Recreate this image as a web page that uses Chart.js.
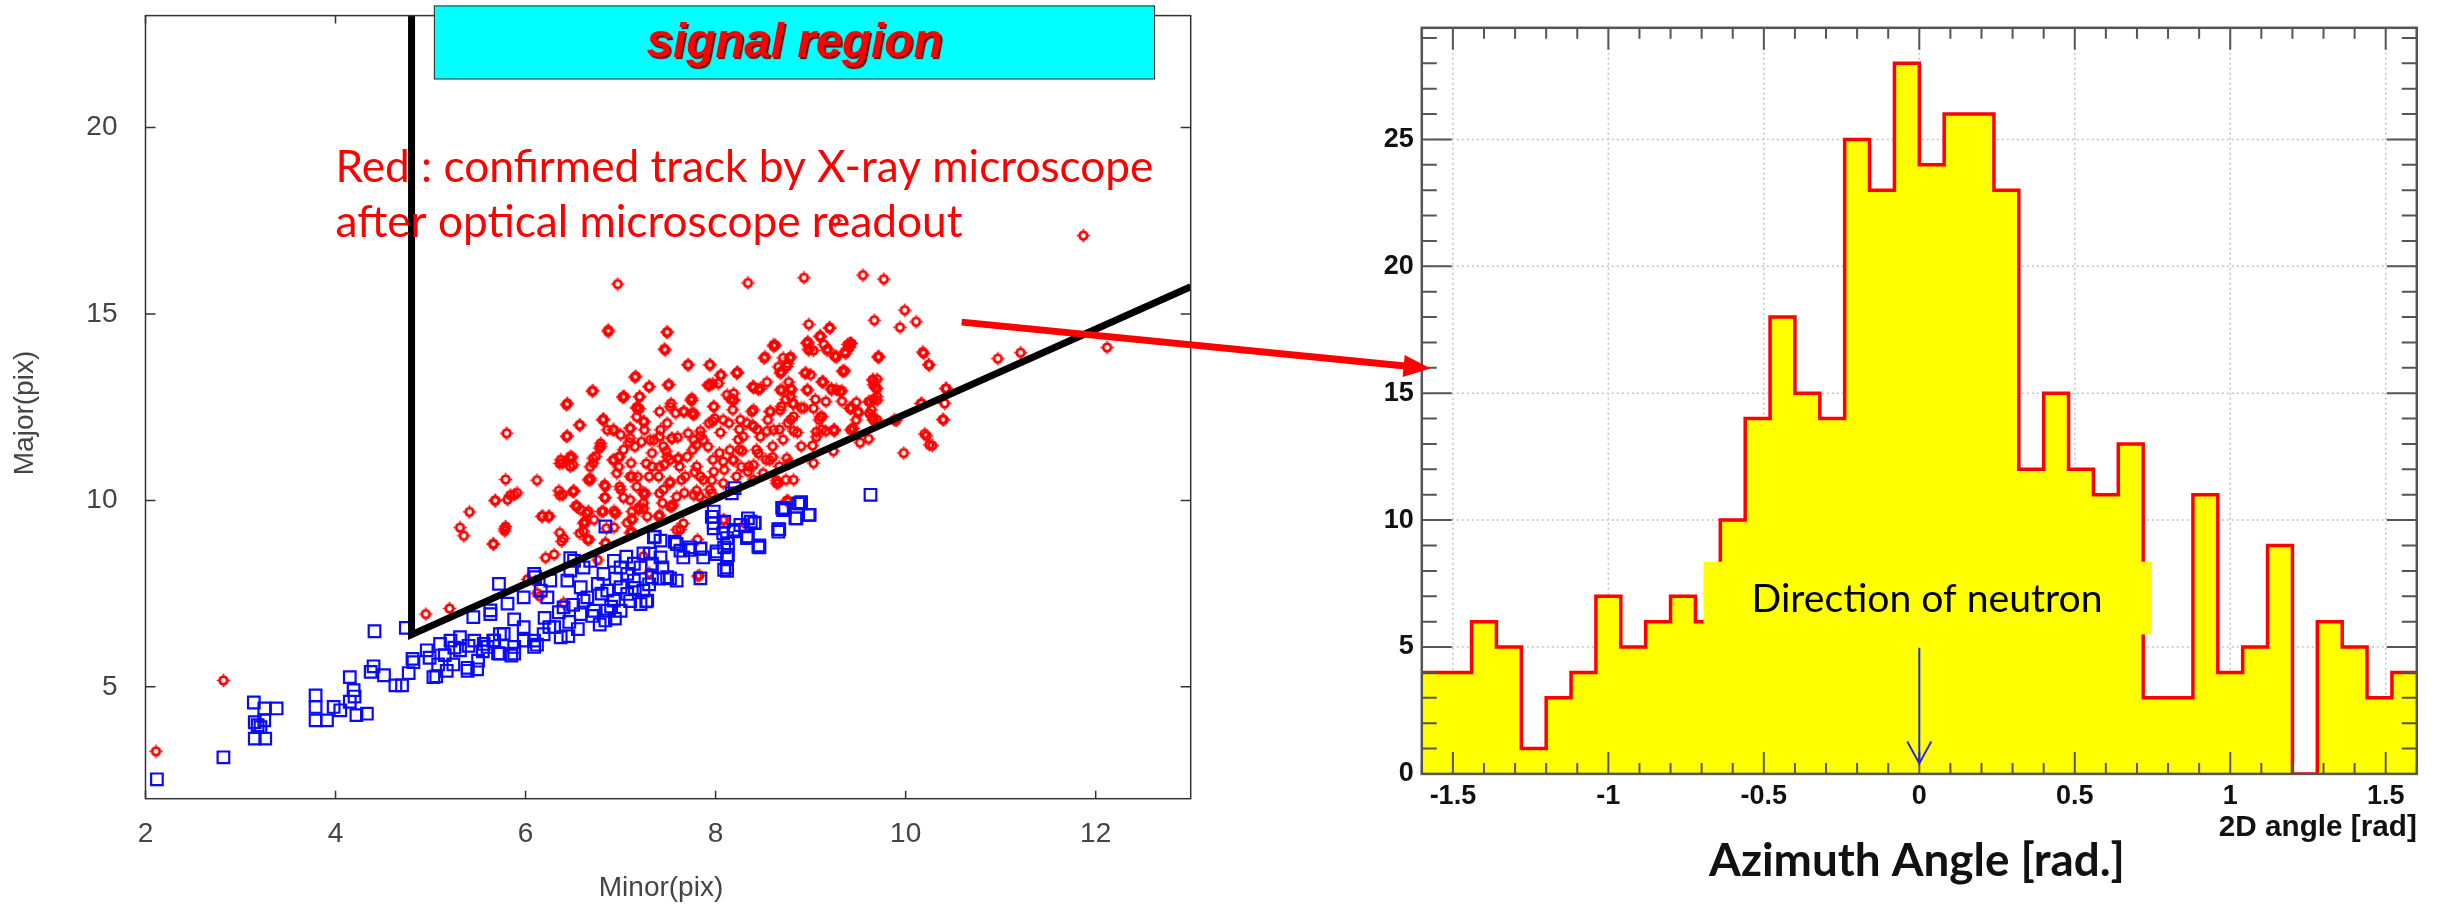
<!DOCTYPE html>
<html>
<head>
<meta charset="utf-8">
<script src="https://cdn.jsdelivr.net/npm/chart.js@4.4.1/dist/chart.umd.min.js"></script>
<style>
body{margin:0;background:#fff;}
#wrap{position:relative;width:2437px;height:909px;overflow:hidden;}
#wrap canvas{position:absolute;top:0;}
</style>
</head>
<body>
<div id="wrap">
<canvas id="scatter" width="1220" height="909" style="left:0"></canvas>
<canvas id="histo" width="1217" height="909" style="left:1220px"></canvas>
<canvas id="overlay" width="2437" height="909" style="left:0;pointer-events:none"></canvas>
</div>
<script>
// ---- scatter: Minor(pix), Major(pix) ----
// rojos: trazas confirmadas con microscopio de rayos X
const redTracks = [
[2.11,3.27],[2.82,5.17],[4.95,6.95],[5.2,7.1],
[6.97,15.8],[8.34,15.83],[8.93,15.97],[9.55,16.04],[9.77,15.93],[11.87,17.1],[9.26,17.5],[12.12,14.1],[11.21,13.96],[10.97,13.8],
[9.99,15.1],[10.11,14.79],[9.67,14.83],[9.94,14.64],[10.18,13.98],[10.24,13.64],[9.71,13.84],[9.98,11.27],[10.2,11.78],[10.28,11.47],
[10.39,12.17],[10.43,13.0],[10.16,12.6],[9.9,12.14],[6.87,14.57],[7.49,14.52],[7.46,14.06],[5.8,11.8],[5.41,9.69],[5.31,9.27],[5.35,9.05],
[5.66,8.84],[5.79,10.56],[5.68,10.0],[5.84,10.14],[5.91,10.2],[5.88,10.15],[5.79,9.3],[5.78,9.18],[6.12,10.54],[6.18,9.58],[6.25,9.58],
[6.21,8.46],[6.3,8.55],[6.36,9.13],[6.38,8.9],[6.44,12.6],[6.57,12.02],[6.81,12.16],[6.49,11.16],[6.39,11.0],[6.35,10.26],[6.51,10.26],
[6.53,9.86],[6.62,9.43],[6.67,8.95],[6.71,12.94],[6.82,12.18],[6.79,11.53],[6.71,11.0],[6.68,10.54],[6.83,10.08],[6.93,9.72],[6.93,9.27],
[7.02,12.77],[7.16,13.33],[7.3,13.05],[7.2,12.46],[7.17,12.24],[7.09,11.56],[6.98,11.16],[7.11,11.0],[7.18,10.63],[7.25,10.15],[7.19,9.81],
[7.12,9.5],[7.4,9.57],[7.55,9.88],[7.71,13.64],[7.94,13.64],[7.51,13.11],[7.75,12.68],[7.75,12.34],[7.94,13.1],[8.05,13.36],[8.23,13.44],
[8.16,12.71],[7.97,12.12],[7.84,11.86],[7.6,11.69],[7.48,11.32],[7.6,11.11],[7.46,10.96],[7.52,10.5],[7.78,10.76],[7.8,10.26],[7.89,9.98],
[7.96,10.54],[8.08,11.04],[8.24,11.63],[8.28,11.33],[8.34,10.77],[8.39,12.01],[8.4,13.02],[8.54,13.17],[8.66,13.58],[8.71,13.82],[8.61,14.13],
[8.69,13.44],[8.77,13.17],[8.74,12.71],[8.79,12.17],[8.54,11.86],[8.71,11.63],[8.6,11.16],[8.77,11.0],[8.64,10.54],[8.82,11.86],[8.98,14.72],
[8.97,14.23],[9.1,14.41],[9.2,14.61],[9.14,14.18],[9.03,14.02],[9.25,13.87],[9.39,14.18],[9.43,14.21],[9.34,13.48],[9.0,13.37],[9.13,13.17],
[9.27,12.97],[9.33,12.66],[9.05,12.71],[8.93,12.48],[9.1,12.24],[9.16,11.86],[9.02,11.47],[9.25,11.86],[9.43,12.48],[9.48,12.63],[9.66,12.71],
[9.66,13.1],[9.7,13.25],[9.65,12.24],[9.44,11.93],[9.52,11.55],[9.24,11.32],[9.03,11.0],[8.75,10.0],[8.66,10.46],[7.83,7.99],[6.1,7.83],
[5.68,9.99],[5.81,10.02],[5.78,9.24],[5.66,8.82],[6.17,9.57],[6.24,9.56],[6.39,10.15],[6.5,10.24],[6.37,11.09],[6.47,11.18],[6.47,10.91],
[6.54,9.84],[6.58,9.75],[6.66,9.71],[6.66,10.55],[6.74,11.18],[6.83,10.42],[6.84,10.07],[6.82,9.71],[6.72,9.48],[6.63,9.4],[6.61,9.17],
[6.65,8.95],[6.84,8.86],[6.93,11.09],[6.96,10.73],[7.0,10.29],[7.03,10.07],[6.95,9.66],[7.07,9.4],[7.1,9.13],[7.03,11.36],[7.12,10.64],
[7.17,10.37],[7.24,10.2],[7.24,9.93],[7.19,9.75],[7.12,9.48],[7.28,9.57],[7.3,10.64],[7.33,10.91],[7.33,11.27],[7.4,10.64],[7.45,10.29],
[7.44,9.93],[7.54,9.84],[7.52,11.09],[7.62,10.91],[7.64,10.55],[7.67,10.2],[7.63,9.22],[7.76,11.36],[7.8,10.91],[7.87,10.55],[7.94,10.29],
[7.83,10.11],[7.97,11.09],[8.04,11.27],[8.09,10.82],[8.18,11.09],[8.25,11.36],[8.35,10.91],[8.53,11.09],[8.67,10.91],[8.74,10.55],[8.43,11.36],
[8.6,11.45],[8.09,9.48],[7.81,8.95],[7.81,7.97],[7.24,8.5],[7.3,8.06],[6.4,7.25],[6.12,7.51],[6.15,7.43],[6.02,7.88],[6.76,8.4],[8.76,9.98],
[8.9,11.45],[9.2,14.64],[9.1,14.39],[8.97,14.25],[8.98,14.06],[9.18,14.06],[9.27,13.85],[9.37,13.94],[9.42,14.21],[9.41,14.1],[8.63,14.16],
[8.52,13.85],[8.79,13.85],[8.76,13.67],[8.69,13.45],[8.95,13.42],[9.36,13.47],[9.72,13.85],[10.19,13.94],[10.25,13.63],[8.23,13.42],[7.93,13.09],
[7.97,13.13],[8.39,13.05],[8.45,12.97],[8.7,12.96],[8.79,13.0],[8.79,12.78],[8.97,12.96],[9.13,13.18],[9.22,13.0],[9.33,12.94],[9.16,12.65],
[9.65,13.23],[9.68,13.03],[9.7,12.78],[9.63,12.65],[9.64,12.43],[9.42,12.47],[9.5,12.34],[9.66,12.16],[9.7,12.16],[10.17,12.6],[10.42,13.0],
[10.41,12.6],[10.4,12.16],[10.22,11.73],[10.25,11.49],[7.74,12.69],[7.98,12.52],[8.19,12.69],[8.18,12.43],[8.4,12.43],[8.58,12.38],[8.69,12.52],
[8.81,12.6],[8.9,12.48],[8.55,12.16],[8.67,11.9],[8.76,12.07],[8.86,11.82],[9.09,12.16],[9.12,11.9],[9.25,11.9],[9.06,11.7],[8.44,11.9],
[8.33,12.07],[8.25,11.9],[8.14,12.07],[8.05,11.82],[7.93,12.07],[7.84,11.73],[7.77,12.29],[9.42,11.89],[9.48,12.16],[9.88,12.16],[9.61,11.65],
[6.93,11.89],[7.0,11.76],[7.1,11.94],[7.25,12.11],[7.25,11.89],[7.1,11.67],[7.35,11.62],[7.42,11.89],[7.49,12.07],[7.53,12.6],[7.58,12.34],
[7.67,12.38],[7.77,12.34],[7.54,11.67],[7.45,11.45],[7.77,11.62],[6.79,11.45],[6.86,11.89],[6.44,11.73],[7.04,12.78],[7.2,12.78],[7.17,12.5],
[6.87,14.52],[7.49,14.5],[7.47,14.03],[7.71,13.63],[7.94,13.63],[8.22,13.41],[8.06,13.36],[7.15,13.3],[6.7,12.93],[7.3,13.05],[7.5,13.09],
[7.03,12.78],[7.2,12.78],[7.17,12.47],[6.43,12.56],[7.75,12.74],[7.92,13.09],[8.03,13.14],[8.19,12.87],[8.4,13.05],[8.47,13.0],[8.61,14.17],
[8.51,13.81],[8.78,13.81],[8.75,13.59],[8.68,13.41],[8.96,14.21],[9.1,14.39],[8.98,14.03],[9.17,14.03],[9.27,13.85],[9.36,13.99],[9.41,14.21],
[9.71,13.85],[9.34,13.45],[8.94,13.41],[9.12,13.18],[9.22,12.96],[9.31,12.92],[8.8,12.96],[8.68,12.96],[8.82,12.6],[8.96,12.96],[9.66,13.23],
[9.7,13.0],[9.61,12.65],[9.7,12.69],[9.41,12.47],[9.5,12.38],[9.45,11.93],[9.66,12.16],[9.62,12.33],[9.24,11.89],[9.06,11.84],[9.12,12.25],
[9.03,12.47],[8.82,12.25],[8.68,12.42],[8.57,12.38],[8.38,12.38],[8.26,12.16],[8.4,11.98],[8.19,12.69],[8.12,12.83],[7.98,12.51],[7.99,12.2],
[8.08,12.16],[7.87,11.62],[7.8,11.49],[7.92,11.44],[7.71,11.8],[7.66,12.38],[7.52,12.51],[7.41,12.38],[7.24,12.11],[7.1,11.93],[6.92,11.89],
[6.82,12.16],[6.57,12.02],[6.43,11.71],[6.78,11.4],[6.71,11.13],[6.47,11.13],[6.5,10.95],[6.68,10.9],[6.92,11.08],[6.99,11.17],[6.98,10.9],
[7.15,11.44],[7.31,11.62],[7.22,11.57],[7.41,11.71],[7.54,11.66],[7.49,11.17],[7.61,11.13],[7.7,11.17],[7.41,10.9],[7.27,10.99],[7.1,10.64],
[6.99,10.37],[6.84,10.37],[6.68,10.59],[6.5,10.23],[6.36,10.99],[6.36,10.14],[6.54,9.83],[6.64,9.65],[6.8,9.7],[6.94,9.65],[7.1,10.01],
[7.26,10.19],[7.41,10.19],[7.52,10.46],[7.68,10.64],[7.84,10.64],[7.98,10.77],[8.19,11.08],[8.27,10.9],[8.15,11.35],[8.29,11.71],[8.47,11.71],
[8.61,11.89],[8.45,11.26],[8.57,11.08],[8.75,11.13],[8.5,10.73],[8.4,10.95],[8.64,10.46],[8.82,10.55],[8.4,10.55],[8.22,10.64],[8.08,10.46],
[7.96,10.19],[7.77,10.14],[7.52,9.83],[7.59,10.1],[7.41,9.61],[7.24,9.79],[7.12,9.7],[6.61,9.38],[6.57,9.12],[6.4,8.98],[6.85,9.25],
[7.12,9.16],[6.84,8.85],[7.66,9.38],[7.59,9.21],[8.08,9.47],[8.31,9.38],[8.77,9.97]
];
// azules: el resto
const blueTracks = [
[2.12,2.52],[2.82,3.11],[3.14,4.58],[3.25,4.42],[3.38,4.42],[3.25,4.1],[3.18,3.97],[3.21,3.92],[3.15,3.61],[3.26,3.61],[3.15,4.05],
[3.79,4.77],[3.79,4.46],[3.79,4.1],[3.91,4.1],[3.98,4.46],[4.05,4.37],[4.15,5.26],[4.19,4.91],[4.2,4.74],[4.15,4.6],[4.22,4.24],[4.33,4.28],
[4.4,5.55],[4.37,5.4],[4.51,5.31],[4.41,6.49],[4.63,5.04],[4.7,5.04],[4.77,5.37],[4.74,6.58],[4.81,5.75],[4.82,5.66],[4.96,5.98],[4.99,5.78],
[5.03,5.26],[5.21,6.24],[5.31,6.33],[5.24,5.6],[5.39,5.51],[5.49,5.47],[5.31,5.98],[5.46,6.24],[5.56,6.15],[5.66,6.24],[5.77,6.42],[5.88,6.07],
[5.98,6.24],[6.09,6.07],[5.85,5.84],[6.09,8.03],[5.72,7.76],[5.45,6.87],[5.63,7.05],[5.81,7.23],[5.98,7.4],[5.63,6.95],[5.73,6.41],[5.88,6.81],
[5.98,6.6],[6.09,6.24],[5.88,5.89],[5.73,5.89],[5.6,6.07],[5.67,6.24],[6.19,6.41],[6.3,6.6],[6.37,6.33],[6.46,6.74],[6.4,7.13],[6.23,7.4],
[6.16,7.58],[6.1,7.94],[6.26,7.85],[6.44,7.85],[6.58,7.67],[6.61,7.31],[6.58,6.95],[6.72,7.04],[6.76,7.76],[6.82,8.03],[6.86,7.58],[6.93,7.31],
[6.86,7.04],[6.84,6.78],[7.0,7.04],[7.0,7.67],[7.07,8.03],[7.14,7.85],[7.21,8.2],[7.24,7.58],[7.21,7.22],[7.28,7.31],[7.07,7.49],[7.14,8.3],
[6.47,8.12],[6.51,8.38],[6.68,8.38],[6.61,8.2],[6.93,8.38],[7.0,8.2],[7.31,8.57],[7.33,8.3],[7.33,7.94],[7.42,8.47],[7.44,8.2],[7.49,7.94],
[7.59,7.85],[7.35,9.01],[7.42,8.92],[7.59,8.83],[7.63,8.65],[7.66,8.47],[7.73,8.74],[7.84,8.7],[7.87,8.47],[7.98,9.7],[7.98,9.39],[8.09,9.43],
[8.19,9.17],[8.12,8.99],[8.09,8.74],[8.12,8.47],[8.12,8.2],[8.12,8.11],[8.01,8.56],[8.26,9.34],[8.33,8.99],[8.46,8.74],[8.37,9.43],[8.41,9.39],
[8.67,9.22],[8.73,9.78],[8.9,9.95],[8.85,9.52],[8.98,9.61],[8.2,10.33],[9.63,10.15],[8.87,9.92],[8.7,9.8],[8.66,9.23],[8.46,8.79],[8.34,9.02],
[5.39,5.43],[5.71,5.9],[6.12,6.13],[6.45,6.36],[6.78,6.67],[6.94,6.83],[7.27,7.29],[7.52,7.91],[7.84,7.91],[8.09,8.14],[8.13,8.53],
[5.06,5.28],[5.17,5.43],[5.08,5.6],[5.15,5.85],[5.25,6.05],[5.4,6.1],[5.5,5.7],[5.55,5.95],[5.1,6.15],
[6.2,6.85],[6.35,7.0],[6.5,7.2],[6.65,7.4],[6.7,6.9],[6.9,7.15],[6.55,6.55],[6.25,6.6],[7.1,7.3],[7.15,7.65],[7.3,7.75],[7.4,7.9],[6.95,7.9],[6.8,7.5],
[8.89,9.92],[8.84,9.52],[8.99,9.61],[8.71,9.74],[8.66,9.16],[8.45,8.76],[8.33,9.03],[8.41,9.4],[8.34,9.52],[8.17,10.19],[7.96,9.56],
[7.98,9.25],[8.08,9.12],[8.19,9.21],[8.13,8.85],[8.01,8.63],[7.84,8.71],[7.73,8.67],[7.57,8.89],[7.36,9.03],[6.84,9.3],[6.47,8.45],
[7.24,8.58],[7.06,8.49]
];
const minorTicks = [2, 4, 6, 8, 10, 12];
const majorTicks = [5, 10, 15, 20];
// corte de la region de senal (vertical + recta)
const cutLine = [[4.8, 23], [4.8, 6.4], [13, 15.73]];

// ---- histograma del angulo azimutal ----
const angleBinLeft = [-1.6,-1.52,-1.44,-1.36,-1.28,-1.2,-1.12,-1.04,-0.96,-0.88,-0.8,-0.72,-0.64,-0.56,-0.48,-0.4,-0.32,-0.24,-0.16,-0.08,
  0,0.08,0.16,0.24,0.32,0.4,0.48,0.56,0.64,0.72,0.8,0.88,0.96,1.04,1.12,1.2,1.28,1.36,1.44,1.52];
const angleCounts = [4,4,6,5,1,3,4,7,5,6,7,6,10,14,18,15,14,25,23,28,24,26,26,23,12,15,12,11,13,3,3,11,4,5,9,0,6,5,3,4];
const angleMax = 1.6;
const angleTicks = [-1.5, -1, -0.5, 0, 0.5, 1, 1.5];
const countTicks = [0, 5, 10, 15, 20, 25];

// ajustar tamaño de fuente a un ancho
const fitFont = (ctx, text, style, family, width) => {
  ctx.font = style + ' 100px ' + family;
  return 100 * width / ctx.measureText(text).width;
};

// sin padding extra de las etiquetas (el area la fija layout.padding)
const noPad = s => { s.paddingTop = 0; s.paddingBottom = 0; s.paddingLeft = 0; s.paddingRight = 0; };

// marcador rojo (anillo con puntas)
const gearMarker = () => {
  const c = document.createElement('canvas');
  c.width = 15; c.height = 15;
  const g = c.getContext('2d');
  g.strokeStyle = '#ff0000';
  g.lineWidth = 2.8;
  g.beginPath(); g.arc(7.5, 7.5, 3.8, 0, Math.PI * 2); g.stroke();
  g.lineWidth = 1.6;
  g.beginPath();
  g.moveTo(7.5, 0.8); g.lineTo(7.5, 2.6);
  g.moveTo(7.5, 12.4); g.lineTo(7.5, 14.2);
  g.moveTo(0.8, 7.5); g.lineTo(2.6, 7.5);
  g.moveTo(12.4, 7.5); g.lineTo(14.2, 7.5);
  g.stroke();
  return c;
};

const leftDecor = {
  id: 'leftDecor',
  afterDraw(chart) {
    const {ctx, chartArea: a, scales: {x, y}} = chart;
    ctx.save();
    // marco y ticks hacia adentro
    ctx.strokeStyle = '#333';
    ctx.lineWidth = 1.5;
    ctx.strokeRect(a.left, a.top, a.right - a.left, a.bottom - a.top);
    ctx.beginPath();
    minorTicks.forEach(v => {
      const px = x.getPixelForValue(v);
      ctx.moveTo(px, a.bottom); ctx.lineTo(px, a.bottom - 8);
      ctx.moveTo(px, a.top); ctx.lineTo(px, a.top + 8);
    });
    majorTicks.forEach(v => {
      const py = y.getPixelForValue(v);
      ctx.moveTo(a.left, py); ctx.lineTo(a.left + 10, py);
      ctx.moveTo(a.right, py); ctx.lineTo(a.right - 10, py);
    });
    ctx.stroke();

    // titulos
    ctx.fillStyle = '#444';
    ctx.font = '28px "Liberation Sans", Arial, sans-serif';
    ctx.textAlign = 'center';
    ctx.textBaseline = 'middle';
    ctx.fillText('Minor(pix)', 661, 888);
    ctx.save();
    ctx.translate(25, 413);
    ctx.rotate(-Math.PI / 2);
    ctx.fillText('Major(pix)', 0, 0);
    ctx.restore();

    // caja "signal region"
    const bx0 = x.getPixelForValue(5.04), bx1 = x.getPixelForValue(12.62);
    const by0 = y.getPixelForValue(23.26), by1 = y.getPixelForValue(21.3);
    ctx.fillStyle = '#00ffff';
    ctx.fillRect(bx0, by0, bx1 - bx0, by1 - by0);
    ctx.strokeStyle = '#222';
    ctx.lineWidth = 1;
    ctx.strokeRect(bx0, by0, bx1 - bx0, by1 - by0);
    const fs = fitFont(ctx, 'signal region', 'italic bold', '"Liberation Sans", Arial, sans-serif', 296);
    ctx.font = 'italic bold ' + fs + 'px "Liberation Sans", Arial, sans-serif';
    ctx.textAlign = 'center';
    ctx.textBaseline = 'alphabetic';
    ctx.shadowColor = '#6a0000';
    ctx.shadowOffsetX = 2; ctx.shadowOffsetY = 2; ctx.shadowBlur = 1;
    ctx.fillStyle = '#ff0000';
    ctx.fillText('signal region', (bx0 + bx1) / 2, 57);
    ctx.shadowColor = 'transparent';

    // texto rojo
    const line1 = 'Red : confirmed track by X-ray microscope';
    const rs = fitFont(ctx, line1, 'normal', 'Lato, sans-serif', 818);
    ctx.font = rs + 'px Lato, sans-serif';
    ctx.textAlign = 'left';
    ctx.fillStyle = '#ff0000';
    const tx = x.getPixelForValue(4.0);
    ctx.fillText(line1, tx, y.getPixelForValue(18.55));
    ctx.fillText('after optical microscope readout', tx, y.getPixelForValue(17.05));
    ctx.restore();
  }
};

const scatterChart = new Chart(document.getElementById('scatter'), {
  type: 'scatter',
  data: {
    datasets: [
      {
        label: 'cut',
        type: 'line',
        data: cutLine.map(([x, y]) => ({x, y})),
        borderColor: '#000',
        borderWidth: 7,
        borderJoinStyle: 'miter',
        pointRadius: 0,
        fill: false,
        order: 0
      },
      {
        label: 'others',
        data: blueTracks.map(([x, y]) => ({x, y})),
        pointStyle: 'rect',
        pointRadius: 8.2,
        borderColor: '#0a0aff',
        borderWidth: 2.2,
        backgroundColor: 'rgba(0,0,0,0)',
        order: 1
      },
      {
        label: 'confirmed',
        data: redTracks.map(([x, y]) => ({x, y})),
        pointStyle: gearMarker(),
        pointRadius: 6,
        order: 2
      }
    ]
  },
  options: {
    responsive: false,
    animation: false,
    devicePixelRatio: 1,
    events: [],
    layout: {padding: {left: 0, right: 29.3, top: 15.6, bottom: 0}},
    plugins: {legend: {display: false}, tooltip: {enabled: false}},
    scales: {
      x: {
        type: 'linear', min: 2, max: 13, bounds: 'data',
        afterBuildTicks: s => { s.ticks = minorTicks.map(v => ({value: v})); },
        afterFit: s => { s.height = 110.3; noPad(s); },
        grid: {display: false, drawTicks: false},
        border: {display: false},
        ticks: {font: {family: '"Liberation Sans", Arial, sans-serif', size: 28}, color: '#444', padding: 19, maxRotation: 0, autoSkip: false}
      },
      y: {
        type: 'linear', min: 2, max: 23, bounds: 'data',
        afterBuildTicks: s => { s.ticks = majorTicks.map(v => ({value: v})); },
        afterFit: s => { s.width = 145.5; noPad(s); },
        grid: {display: false, drawTicks: false},
        border: {display: false},
        ticks: {font: {family: '"Liberation Sans", Arial, sans-serif', size: 28}, color: '#444', padding: 28, autoSkip: false}
      }
    }
  },
  plugins: [leftDecor]
});

// ---- panel derecho ----
const rightDecor = {
  id: 'rightDecor',
  beforeDatasetsDraw(chart) {
    const {ctx, chartArea: a, scales: {x, y}} = chart;
    ctx.save();
    ctx.strokeStyle = '#c4c4c4';
    ctx.lineWidth = 1.5;
    ctx.setLineDash([2, 3]);
    ctx.beginPath();
    angleTicks.forEach(v => { const px = x.getPixelForValue(v); ctx.moveTo(px, a.top); ctx.lineTo(px, a.bottom); });
    countTicks.forEach(v => { const py = y.getPixelForValue(v); ctx.moveTo(a.left, py); ctx.lineTo(a.right, py); });
    ctx.stroke();
    ctx.restore();
  },
  afterDatasetsDraw(chart) {
    const {ctx, chartArea: a, scales: {x, y}} = chart;
    ctx.save();
    // ticks menores y mayores
    ctx.strokeStyle = '#555';
    ctx.lineWidth = 2;
    ctx.beginPath();
    for (let i = -16; i <= 16; i++) {
      const v = i / 10;
      const px = x.getPixelForValue(v);
      const len = (i % 5 === 0) ? 22 : 11;
      ctx.moveTo(px, a.bottom); ctx.lineTo(px, a.bottom - len);
      ctx.moveTo(px, a.top); ctx.lineTo(px, a.top + len);
    }
    for (let v = 0; v <= 29; v++) {
      const py = y.getPixelForValue(v);
      const len = (v % 5 === 0) ? 30 : 15;
      ctx.moveTo(a.left, py); ctx.lineTo(a.left + len, py);
      ctx.moveTo(a.right, py); ctx.lineTo(a.right - len, py);
    }
    ctx.stroke();
    ctx.strokeStyle = '#555';
    ctx.lineWidth = 2.5;
    ctx.strokeRect(a.left, a.top, a.right - a.left, a.bottom - a.top);

    // caja amarilla
    const bx0 = x.getPixelForValue(-0.694), bx1 = x.getPixelForValue(0.748);
    const by0 = y.getPixelForValue(8.36), by1 = y.getPixelForValue(5.5);
    ctx.fillStyle = '#ffff00';
    ctx.fillRect(bx0, by0, bx1 - bx0, by1 - by0);
    const label = 'Direction of neutron';
    const fs = fitFont(ctx, label, 'normal', 'Lato, sans-serif', 351);
    ctx.font = fs + 'px Lato, sans-serif';
    ctx.fillStyle = '#000';
    ctx.textAlign = 'center';
    ctx.textBaseline = 'middle';
    ctx.fillText(label, x.getPixelForValue(0.025), y.getPixelForValue(6.86));

    // flecha azul
    const ax = x.getPixelForValue(0);
    const ay0 = y.getPixelForValue(4.97), ay1 = y.getPixelForValue(0.41);
    ctx.strokeStyle = '#2a2ae0';
    ctx.lineWidth = 2;
    ctx.beginPath();
    ctx.moveTo(ax, ay0); ctx.lineTo(ax, ay1);
    ctx.moveTo(ax - 12, ay1 - 22); ctx.lineTo(ax, ay1); ctx.lineTo(ax + 12, ay1 - 22);
    ctx.stroke();
    ctx.restore();
  },
  afterDraw(chart) {
    const {ctx, chartArea: a} = chart;
    ctx.save();
    ctx.fillStyle = '#111';
    const t1 = '2D angle [rad]';
    const f1 = fitFont(ctx, t1, 'bold', '"Liberation Sans", Arial, sans-serif', 198);
    ctx.font = 'bold ' + f1 + 'px "Liberation Sans", Arial, sans-serif';
    ctx.textAlign = 'right';
    ctx.textBaseline = 'alphabetic';
    ctx.fillText(t1, a.right, 836);
    const t2 = 'Azimuth Angle [rad.]';
    const f2 = fitFont(ctx, t2, 'bold', 'Lato, sans-serif', 416);
    ctx.font = 'bold ' + f2 + 'px Lato, sans-serif';
    ctx.textAlign = 'center';
    ctx.fillText(t2, 1917 - 1220, 876);
    ctx.restore();
  }
};

const histPoints = angleBinLeft.map((v, i) => ({x: v, y: angleCounts[i]}));
histPoints.push({x: angleMax, y: angleCounts[angleCounts.length - 1]});

const histChart = new Chart(document.getElementById('histo'), {
  type: 'line',
  data: {
    datasets: [{
      label: 'azimuth',
      data: histPoints,
      stepped: true,
      borderColor: '#ff0000',
      borderWidth: 3.5,
      borderJoinStyle: 'miter',
      backgroundColor: '#ffff00',
      fill: 'origin',
      pointRadius: 0,
      tension: 0
    }]
  },
  options: {
    responsive: false,
    animation: false,
    devicePixelRatio: 1,
    events: [],
    layout: {padding: {left: 0, right: 20.2, top: 27.8, bottom: 0}},
    plugins: {legend: {display: false}, tooltip: {enabled: false}},
    scales: {
      x: {
        type: 'linear', min: -angleMax, max: angleMax, bounds: 'data',
        afterBuildTicks: s => { s.ticks = angleTicks.map(v => ({value: v})); },
        afterFit: s => { s.height = 135.1; noPad(s); },
        grid: {display: false, drawTicks: false},
        border: {display: false},
        ticks: {font: {family: '"Liberation Sans", Arial, sans-serif', size: 27, weight: 'bold'}, color: '#111', padding: 6, maxRotation: 0, autoSkip: false, callback: v => String(v)}
      },
      y: {
        type: 'linear', min: 0, max: 29.4, bounds: 'data',
        afterBuildTicks: s => { s.ticks = countTicks.map(v => ({value: v})); },
        afterFit: s => { s.width = 201.8; noPad(s); },
        grid: {display: false, drawTicks: false},
        border: {display: false},
        ticks: {font: {family: '"Liberation Sans", Arial, sans-serif', size: 27, weight: 'bold'}, color: '#111', padding: 8, autoSkip: false}
      }
    }
  },
  plugins: [rightDecor]
});

// ---- flecha roja entre paneles ----
const ov = document.getElementById('overlay').getContext('2d');
const sx = scatterChart.scales.x.getPixelForValue(10.59);
const sy = scatterChart.scales.y.getPixelForValue(14.78);
const ex = 1220 + histChart.scales.x.getPixelForValue(-1.572);
const ey = histChart.scales.y.getPixelForValue(15.97);
const ang = Math.atan2(ey - sy, ex - sx);
const headLen = 27, headHalf = 11;
const bx = ex - Math.cos(ang) * headLen, by = ey - Math.sin(ang) * headLen;
ov.strokeStyle = '#ff0000';
ov.fillStyle = '#ff0000';
ov.lineWidth = 7;
ov.beginPath();
ov.moveTo(sx, sy);
ov.lineTo(bx + Math.cos(ang) * 4, by + Math.sin(ang) * 4);
ov.stroke();
ov.beginPath();
ov.moveTo(ex, ey);
ov.lineTo(bx - Math.sin(ang) * headHalf, by + Math.cos(ang) * headHalf);
ov.lineTo(bx + Math.sin(ang) * headHalf, by - Math.cos(ang) * headHalf);
ov.closePath();
ov.fill();
</script>
</body>
</html>
